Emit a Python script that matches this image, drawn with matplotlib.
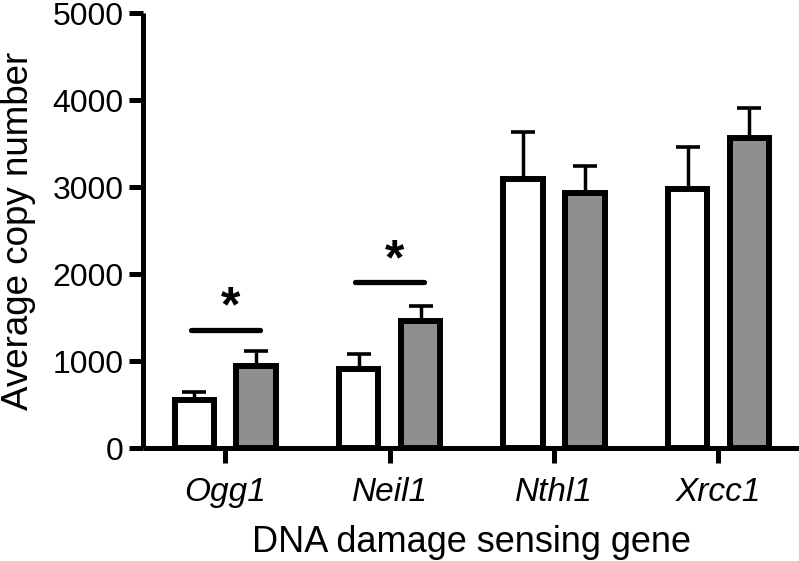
import numpy as np
import matplotlib.pyplot as plt

plt.rcParams['font.family'] = ['Liberation Sans', 'DejaVu Sans']

# values
genes = ["Ogg1", "Neil1", "Nthl1", "Xrcc1"]
white_means = [550, 910, 3100, 2980]
white_err = [90, 170, 535, 480]
gray_means = [940, 1465, 2930, 3570]
gray_err = [180, 170, 310, 340]
sig_pairs = [0, 1]          # gene index with a significant difference
sig_heights = [1360, 1905]  # y of the bracket line
yticks = [0, 1000, 2000, 3000, 4000, 5000]

fig = plt.figure(figsize=(7.99, 5.61), dpi=100)
ax = fig.add_axes([0.179, 0.2014, 0.821, 0.7746])

x = np.arange(len(genes))
off = 0.188
w = 0.24

ax.errorbar(x - off, white_means, yerr=[np.zeros(4), white_err], fmt="none",
            ecolor="black", elinewidth=2.5, capsize=8.5, capthick=2.6, zorder=2)
ax.errorbar(x + off, gray_means, yerr=[np.zeros(4), gray_err], fmt="none",
            ecolor="black", elinewidth=2.5, capsize=8.5, capthick=2.6, zorder=2)
ax.bar(x - off, white_means, w, color="white", edgecolor="black",
       linewidth=4.3, zorder=3)
ax.bar(x + off, gray_means, w, color="#8e8e8e", edgecolor="black",
       linewidth=4.3, zorder=3)

# significance brackets
for i, h in zip(sig_pairs, sig_heights):
    ax.plot([i - 0.21, i + 0.21], [h, h], color="black", lw=3.8,
            solid_capstyle="round", zorder=4)
    ax.text(i + 0.03, h - 20, "*", ha="center", va="bottom", fontsize=36,
            fontweight="bold", zorder=4)

ax.set_xlim(-0.5, 3.49)
ax.set_ylim(0, 5000)
ax.set_yticks(yticks)
ax.set_xticks(x)
ax.set_xticklabels(genes, fontstyle="italic")

for s in ["top", "right"]:
    ax.spines[s].set_visible(False)
for s in ["left", "bottom"]:
    ax.spines[s].set_linewidth(3.6)
    ax.spines[s].set_capstyle("butt")

ax.tick_params(axis="y", length=10, width=3.6, labelsize=23, pad=4)
ax.tick_params(axis="x", length=11, width=3.6, labelsize=24, pad=10)

ax.set_ylabel("Average copy number", fontsize=26.5, labelpad=12)
ax.set_xlabel("DNA damage sensing gene", fontsize=26, labelpad=12)

fig.savefig("out.png", dpi=100)
